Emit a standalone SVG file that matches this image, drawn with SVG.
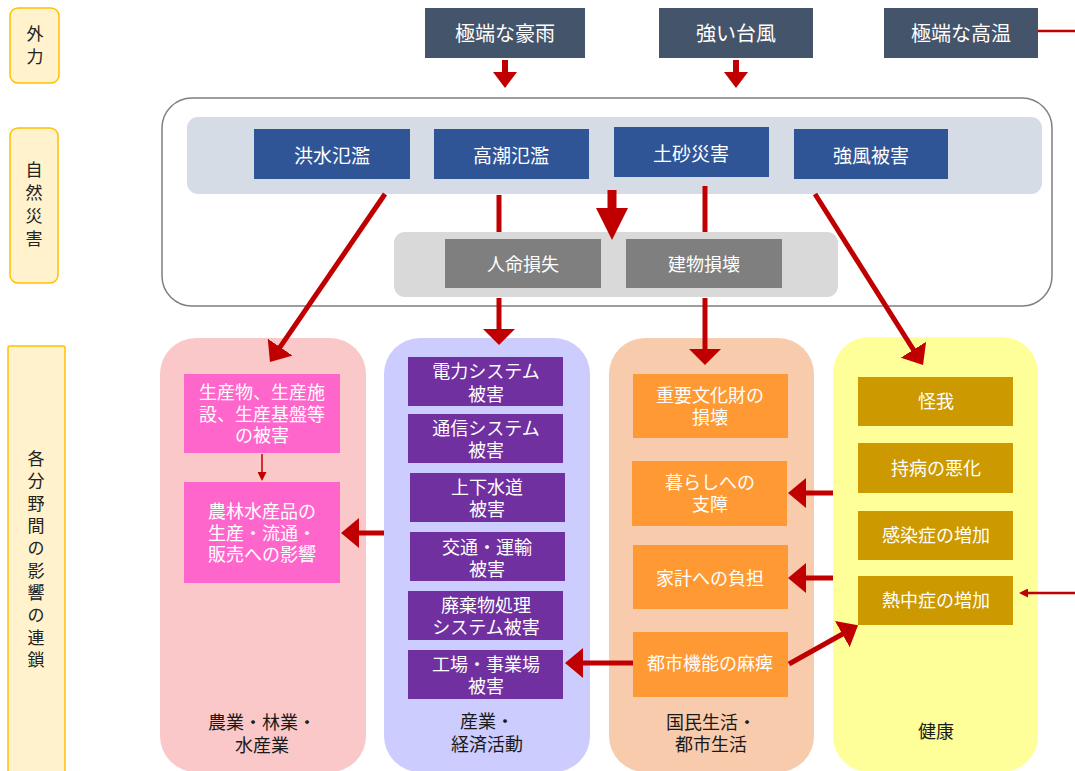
<svg xmlns="http://www.w3.org/2000/svg" width="1075" height="771" viewBox="0 0 1075 771">
<style>
text{font-family:"Noto Sans CJK JP","Noto Sans",sans-serif;dominant-baseline:central;text-anchor:middle}
.lbl{fill:#fff2cc;stroke:#ffc000;stroke-width:1.5}
.lt{font-size:17px;fill:#222}
.top{fill:#44546a}
.tt{font-size:20px;fill:#ffffff}
.blue{fill:#2f5597}
.bt{font-size:19px;fill:#ffffff}
.gray{fill:#7f7f7f}
.wt{font-size:18px;fill:#ffffff}
.ct{font-size:18px;fill:#1a1a1a}
.pink{fill:#ff66cc}
.purple{fill:#7030a0}
.orange{fill:#ff9933}
.gold{fill:#cc9900}
.ar{stroke:#c00000;fill:none}
</style>
<defs>
<marker id="hs" markerUnits="userSpaceOnUse" viewBox="0 0 16 24" markerWidth="16" markerHeight="24" refX="8" refY="12" orient="auto"><path d="M0,0L16,12L0,24z" fill="#c00000"/></marker>
<marker id="hm" markerUnits="userSpaceOnUse" viewBox="0 0 18 30" markerWidth="18" markerHeight="30" refX="8" refY="15" orient="auto"><path d="M0,0L18,15L0,30z" fill="#c00000"/></marker>
<marker id="hf" markerUnits="userSpaceOnUse" viewBox="0 0 16 32" markerWidth="16" markerHeight="32" refX="6" refY="16" orient="auto"><path d="M0,0L16,16L0,32z" fill="#c00000"/></marker>
<marker id="hb" markerUnits="userSpaceOnUse" viewBox="0 0 32 32" markerWidth="32" markerHeight="32" refX="12" refY="16" orient="auto"><path d="M0,0L32,16L0,32z" fill="#c00000"/></marker>
<marker id="ht" markerUnits="userSpaceOnUse" viewBox="0 0 9 9" markerWidth="9" markerHeight="9" refX="6" refY="4.5" orient="auto"><path d="M0,0L9,4.5L0,9z" fill="#c00000"/></marker>
</defs>

<g id="label-gairyoku"><rect class="lbl" x="10" y="8" width="49" height="75" rx="8"/><text class="lt"><tspan x="35" y="32">外</tspan><tspan x="35" y="55">力</tspan></text></g>
<g id="label-shizen"><rect class="lbl" x="10" y="128" width="48" height="155" rx="8"/><text class="lt"><tspan x="34" y="168">自</tspan><tspan x="34" y="191">然</tspan><tspan x="34" y="214">災</tspan><tspan x="34" y="237">害</tspan></text></g>
<g id="label-rensa"><rect class="lbl" x="8" y="346" width="57" height="440" rx="2"/><text class="lt"><tspan x="36" y="457">各</tspan><tspan x="36" y="479">分</tspan><tspan x="36" y="502">野</tspan><tspan x="36" y="524">間</tspan><tspan x="36" y="546">の</tspan><tspan x="36" y="569">影</tspan><tspan x="36" y="591">響</tspan><tspan x="36" y="613">の</tspan><tspan x="36" y="636">連</tspan><tspan x="36" y="658">鎖</tspan></text></g>

<g id="ext-gouu"><rect class="top" x="425" y="8" width="160" height="50"/><text class="tt" x="505" y="32">極端な豪雨</text></g>
<g id="ext-taifu"><rect class="top" x="659" y="8" width="154" height="50"/><text class="tt" x="736" y="32">強い台風</text></g>
<g id="ext-kouon"><rect class="top" x="884" y="8" width="154" height="50"/><text class="tt" x="961" y="32">極端な高温</text></g>

<g id="disaster-container">
<rect x="162" y="98" width="890" height="208" rx="30" fill="#ffffff" stroke="#7f7f7f" stroke-width="1.5"/>
<rect x="187" y="117" width="855" height="77" rx="11" fill="#d6dce5"/>
<rect x="394" y="232" width="444" height="65" rx="11" fill="#d9d9d9"/>
</g>
<g id="n-kouzui"><rect class="blue" x="254" y="129" width="156" height="50"/><text class="bt" x="332" y="154">洪水氾濫</text></g>
<g id="n-takashio"><rect class="blue" x="434" y="129" width="155" height="50"/><text class="bt" x="511" y="154">高潮氾濫</text></g>
<g id="n-dosha"><rect class="blue" x="614" y="127" width="155" height="50"/><text class="bt" x="691" y="152">土砂災害</text></g>
<g id="n-kyofu"><rect class="blue" x="794" y="129" width="154" height="50"/><text class="bt" x="871" y="154">強風被害</text></g>
<g id="n-jinmei"><rect class="gray" x="445" y="239" width="156" height="49"/><text class="wt" x="523" y="263">人命損失</text></g>
<g id="n-tatemono"><rect class="gray" x="626" y="239" width="156" height="49"/><text class="wt" x="704" y="263">建物損壊</text></g>

<g id="col-nougyou"><rect x="160" y="338" width="206" height="434" rx="36" fill="#fac8c8"/>
<text class="ct"><tspan x="262" y="721">農業・林業・</tspan><tspan x="262" y="744">水産業</tspan></text></g>
<g id="col-sangyou"><rect x="384" y="338" width="206" height="434" rx="36" fill="#ccccff"/>
<text class="ct"><tspan x="487" y="720">産業・</tspan><tspan x="487" y="743">経済活動</tspan></text></g>
<g id="col-kokumin"><rect x="609" y="338" width="205" height="434" rx="36" fill="#f8cbad"/>
<text class="ct"><tspan x="711" y="721">国民生活・</tspan><tspan x="711" y="743">都市生活</tspan></text></g>
<g id="col-kenkou"><rect x="833" y="337" width="205" height="435" rx="36" fill="#ffff99"/>
<text class="ct" x="936" y="730">健康</text></g>

<g id="p-seisanbutsu"><rect class="pink" x="184" y="374" width="156" height="79"/><text class="wt"><tspan x="262" y="391">生産物、生産施</tspan><tspan x="262" y="413">設、生産基盤等</tspan><tspan x="262" y="434">の被害</tspan></text></g>
<g id="p-nourin"><rect class="pink" x="184" y="482" width="156" height="101"/><text class="wt"><tspan x="262" y="510">農林水産品の</tspan><tspan x="262" y="532">生産・流通・</tspan><tspan x="262" y="553">販売への影響</tspan></text></g>

<g id="s-denryoku"><rect class="purple" x="408" y="357" width="155" height="49"/><text class="wt"><tspan x="486" y="370">電力システム</tspan><tspan x="486" y="393">被害</tspan></text></g>
<g id="s-tsushin"><rect class="purple" x="408" y="414" width="155" height="49"/><text class="wt"><tspan x="486" y="427">通信システム</tspan><tspan x="486" y="449">被害</tspan></text></g>
<g id="s-suidou"><rect class="purple" x="410" y="473" width="155" height="49"/><text class="wt"><tspan x="487" y="486">上下水道</tspan><tspan x="487" y="508">被害</tspan></text></g>
<g id="s-koutsu"><rect class="purple" x="410" y="532" width="155" height="49"/><text class="wt"><tspan x="487" y="546">交通・運輸</tspan><tspan x="487" y="568">被害</tspan></text></g>
<g id="s-haikibutsu"><rect class="purple" x="408" y="591" width="155" height="49"/><text class="wt"><tspan x="486" y="604">廃棄物処理</tspan><tspan x="486" y="626">システム被害</tspan></text></g>
<g id="s-koujou"><rect class="purple" x="408" y="650" width="155" height="49"/><text class="wt"><tspan x="486" y="663">工場・事業場</tspan><tspan x="486" y="685">被害</tspan></text></g>

<g id="k-bunkazai"><rect class="orange" x="633" y="374" width="155" height="64"/><text class="wt"><tspan x="710" y="394">重要文化財の</tspan><tspan x="710" y="416">損壊</tspan></text></g>
<g id="k-kurashi"><rect class="orange" x="632" y="461" width="155" height="65"/><text class="wt"><tspan x="710" y="481">暮らしへの</tspan><tspan x="710" y="503">支障</tspan></text></g>
<g id="k-kakei"><rect class="orange" x="633" y="545" width="155" height="64"/><text class="wt" x="710" y="577">家計への負担</text></g>
<g id="k-toshi"><rect class="orange" x="633" y="632" width="155" height="65"/><text class="wt" x="710" y="662">都市機能の麻痺</text></g>

<g id="h-kega"><rect class="gold" x="858" y="377" width="155" height="49"/><text class="wt" x="936" y="400">怪我</text></g>
<g id="h-jibyou"><rect class="gold" x="858" y="443" width="155" height="50"/><text class="wt" x="936" y="467">持病の悪化</text></g>
<g id="h-kansen"><rect class="gold" x="858" y="511" width="155" height="49"/><text class="wt" x="936" y="534">感染症の増加</text></g>
<g id="h-necchu"><rect class="gold" x="858" y="576" width="155" height="49"/><text class="wt" x="936" y="599">熱中症の増加</text></g>

<g id="connectors">
<line class="ar" stroke-width="6" x1="505" y1="60" x2="505" y2="80" marker-end="url(#hs)"/>
<line class="ar" stroke-width="6" x1="736" y1="60" x2="736" y2="80" marker-end="url(#hs)"/>
<line class="ar" stroke-width="2.5" x1="1038" y1="31" x2="1075" y2="31"/>
<line class="ar" stroke-width="5" x1="499" y1="195" x2="499" y2="232"/>
<line class="ar" stroke-width="5" x1="705" y1="186" x2="705" y2="232"/>
<line class="ar" stroke-width="9" x1="612" y1="190" x2="612" y2="220" marker-end="url(#hb)"/>
<line class="ar" stroke-width="5" x1="499" y1="298" x2="499" y2="335" marker-end="url(#hf)"/>
<line class="ar" stroke-width="5" x1="705" y1="298" x2="705" y2="355" marker-end="url(#hf)"/>
<line class="ar" stroke-width="5" x1="385" y1="194" x2="275.6" y2="353.7" marker-end="url(#hm)"/>
<line class="ar" stroke-width="5" x1="815" y1="194" x2="917.7" y2="356.5" marker-end="url(#hm)"/>
<line class="ar" stroke-width="1.5" x1="262" y1="454" x2="262" y2="478" marker-end="url(#ht)"/>
<line class="ar" stroke-width="5" x1="384" y1="533" x2="351" y2="533" marker-end="url(#hm)"/>
<line class="ar" stroke-width="5" x1="633" y1="663" x2="575" y2="663" marker-end="url(#hm)"/>
<line class="ar" stroke-width="5" x1="833" y1="493" x2="798" y2="493" marker-end="url(#hm)"/>
<line class="ar" stroke-width="5" x1="833" y1="578" x2="798" y2="578" marker-end="url(#hm)"/>
<line class="ar" stroke-width="5" x1="789" y1="664" x2="849.3" y2="630.2" marker-end="url(#hm)"/>
<line class="ar" stroke-width="2.5" x1="1075" y1="593" x2="1022" y2="593" marker-end="url(#ht)"/>
</g>
</svg>
